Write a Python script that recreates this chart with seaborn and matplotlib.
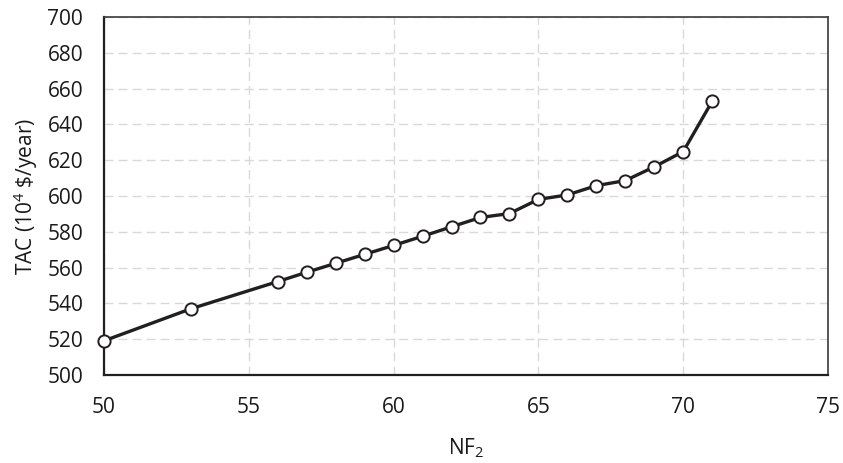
import matplotlib
matplotlib.use("Agg")
import matplotlib.pyplot as plt
import seaborn as sns
import pandas as pd

# Number of trays in column 2 vs. total annual cost
nf2 = [50, 53, 56, 57, 58, 59, 60, 61, 62, 63, 64, 65, 66, 67, 68, 69, 70, 71]
tac = [519.1, 537.0, 552.2, 557.4, 562.4, 567.4, 572.4, 577.5, 582.8, 588.0,
       590.2, 598.1, 600.6, 605.8, 608.6, 616.3, 624.8, 652.9]
x_ticks = [50, 55, 60, 65, 70, 75]
y_ticks = [500, 520, 540, 560, 580, 600, 620, 640, 660, 680, 700]

sns.set_theme(style="white")
plt.rcParams["font.family"] = ["Open Sans", "DejaVu Sans"]
plt.rcParams["mathtext.fontset"] = "custom"
plt.rcParams["mathtext.rm"] = "Open Sans"
plt.rcParams["mathtext.it"] = "Open Sans:italic"

df = pd.DataFrame({"NF2": nf2, "TAC": tac})

fig = plt.figure(figsize=(8.43, 4.63), dpi=100)
ax = fig.add_axes([104 / 843, 1 - 375 / 463, 724 / 843, 358 / 463])

sns.lineplot(data=df, x="NF2", y="TAC", ax=ax, color="#231f20", linewidth=2.4,
             marker="o", markersize=8.8, markerfacecolor="white",
             markeredgecolor="#231f20", markeredgewidth=1.4, zorder=3,
             clip_on=False)

ax.set_xlim(50, 75)
ax.set_ylim(500, 700)
ax.set_xticks(x_ticks)
ax.set_yticks(y_ticks)
ax.grid(True, color="#d9d9d9", linestyle=(0, (6.5, 3.6)), linewidth=1.0, zorder=0)
ax.set_axisbelow(True)

for side in ["left", "bottom"]:
    ax.spines[side].set_color("#231f20")
    ax.spines[side].set_linewidth(1.6)
for side in ["top", "right"]:
    ax.spines[side].set_color("#3a3a3a")
    ax.spines[side].set_linewidth(1.2)

ax.tick_params(axis="x", length=0, pad=16, labelsize=15, labelcolor="#1a1a1a")
ax.tick_params(axis="y", length=0, pad=15, labelsize=15, labelcolor="#1a1a1a")

ax.set_xlabel(r"NF$_{2}$", fontsize=15, color="#1a1a1a", labelpad=13)
ax.set_ylabel(r"TAC (10$^{4}$ \$/year)", fontsize=15, color="#1a1a1a", labelpad=5)

fig.savefig("out.png", dpi=100)
